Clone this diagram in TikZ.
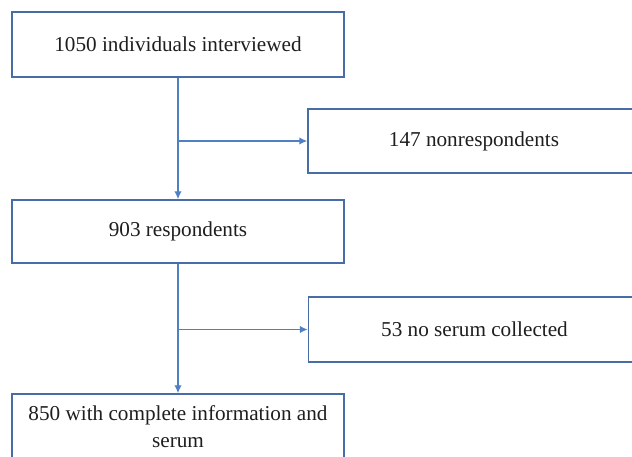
\documentclass[tikz,border=0pt]{standalone}
\usepackage{fontspec}
\setmainfont{Liberation Serif}
\usetikzlibrary{arrows.meta}
\definecolor{boxc}{RGB}{72,108,165}
\definecolor{linec}{RGB}{78,128,195}
\definecolor{txt}{RGB}{30,30,30}
\begin{document}
\begin{tikzpicture}[x=1pt,y=-1pt,
  flowbox/.style={draw=boxc,line width=1.5pt,rectangle,inner sep=0pt,
    text=txt,align=center,font=\fontsize{21.2}{27}\selectfont},
  conn/.style={draw=linec,line width=1.4pt,-{Latex[length=8pt,width=7.5pt]}}]
\useasboundingbox (0,0) rectangle (632,456);
\begin{scope}
\clip (0,0) rectangle (632,456);
\node[flowbox,minimum width=332pt,minimum height=65pt] (a) at (178,44.5) {1050 individuals interviewed};
\node[flowbox,minimum width=332pt,minimum height=64pt] (n) at (474,141) {147 nonrespondents};
\node[flowbox,minimum width=332pt,minimum height=63pt] (b) at (178,231.5) {903 respondents};
\node[flowbox,minimum width=332pt,minimum height=65pt] (s) at (474.5,329.5) {53 no serum collected};
\node[flowbox,minimum width=332pt,minimum height=65pt] (c) at (178,426.5) {850 with complete information and\\serum};
\coordinate (j1) at (178,141);
\coordinate (j2) at (178,329.5);
\draw[conn] (a.south) -- (b.north);
\draw[conn] (j1) -- (n.west);
\draw[conn] (b.south) -- (c.north);
\draw[conn] (j2) -- (s.west);
\end{scope}
\end{tikzpicture}
\end{document}
